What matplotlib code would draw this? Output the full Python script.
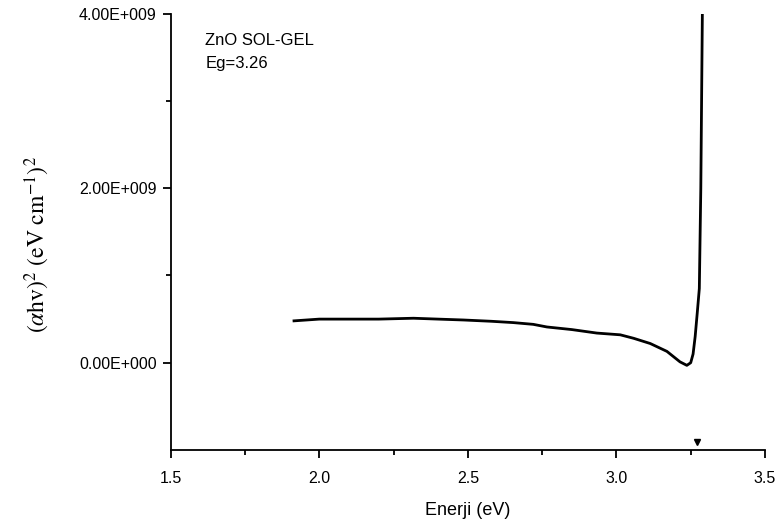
import matplotlib
matplotlib.use('Agg')
import matplotlib.pyplot as plt
import matplotlib.ticker as mticker
from matplotlib.transforms import blended_transform_factory

plt.rcParams['font.family'] = ['Liberation Sans', 'DejaVu Sans']
plt.rcParams['mathtext.fontset'] = 'stix'

# Tauc plot (energy in eV, (ahv)^2 in units of 1e9)
energy = [1.915, 2.0, 2.09, 2.2, 2.317, 2.4, 2.485, 2.58, 2.653, 2.72, 2.766,
          2.85, 2.934, 3.013, 3.058, 3.114, 3.17, 3.214, 3.237, 3.25, 3.258,
          3.265, 3.272, 3.279, 3.284, 3.29]
tauc = [0.48, 0.50, 0.50, 0.50, 0.51, 0.50, 0.49, 0.475, 0.46, 0.44, 0.41,
        0.38, 0.34, 0.32, 0.28, 0.22, 0.13, 0.01, -0.03, 0.0, 0.10,
        0.30, 0.57, 0.85, 2.0, 4.3]
tauc = [v * 1e9 for v in tauc]

eg_marker = 3.27
sample_label = 'ZnO SOL-GEL\nEg=3.26'
y_ticks = [0, 2e9, 4e9]
y_ticklabels = ['0.00E+000', '2.00E+009', '4.00E+009']
x_ticks = [1.5, 2.0, 2.5, 3.0, 3.5]

fig = plt.figure(figsize=(7.83, 5.30), dpi=100)
ax = fig.add_axes([0.218, 0.151, 0.759, 0.823])

ax.plot(energy, tauc, color='black', lw=2.0, solid_joinstyle='round')

trans = blended_transform_factory(ax.transData, ax.transAxes)
ax.plot([eg_marker], [0.018], marker='v', color='black', ms=4.5,
        transform=trans, clip_on=False)

ax.set_xlim(1.5, 3.5)
ax.set_ylim(-1e9, 4e9)
ax.set_xticks(x_ticks)
ax.set_xticklabels([f'{t:.1f}' for t in x_ticks])
ax.xaxis.set_minor_locator(mticker.MultipleLocator(0.25))
ax.set_yticks(y_ticks)
ax.set_yticklabels(y_ticklabels)
ax.yaxis.set_minor_locator(mticker.FixedLocator([1e9, 3e9]))

for s in ['top', 'right']:
    ax.spines[s].set_visible(False)
for s in ['left', 'bottom']:
    ax.spines[s].set_linewidth(1.3)

ax.tick_params(which='major', direction='out', length=6, width=1.3,
               labelsize=11.5)
ax.tick_params(axis='x', which='major', pad=9)
ax.tick_params(axis='y', which='major', pad=4)
ax.tick_params(which='minor', direction='out', length=3.5, width=1.3)

ax.set_xlabel('Enerji (eV)', fontsize=13)
ax.xaxis.set_label_coords(0.5, -0.12)
ax.set_ylabel(r'$(\alpha\mathrm{hv})^2\ (\mathrm{eV\ cm}^{-1})^2$',
              fontsize=17)
ax.yaxis.set_label_coords(-0.2, 0.47)

ax.text(0.058, 0.955, sample_label, transform=ax.transAxes, fontsize=12,
        va='top', ha='left', linespacing=1.65)

fig.savefig('out.png', dpi=100)
